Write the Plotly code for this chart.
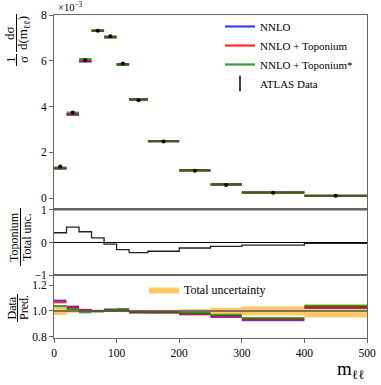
import plotly.graph_objects as go

# ---------------- data ----------------
bin_edges = [0, 20, 40, 60, 80, 100, 120, 150, 200, 250, 300, 400, 500]

# normalised cross-section, units of 1e-3
atlas_data = [1.38, 3.74, 6.02, 7.31, 7.07, 5.88, 4.27, 2.47, 1.19, 0.57, 0.23, 0.10]
atlas_err = [0.04, 0.05, 0.05, 0.05, 0.05, 0.06, 0.04, 0.03, 0.02, 0.015, 0.008, 0.005]
nnlo = [1.29, 3.64, 5.97, 7.31, 7.05, 5.85, 4.32, 2.49, 1.21, 0.60, 0.245, 0.098]
nnlo_top = [1.30, 3.67, 5.99, 7.31, 7.04, 5.84, 4.31, 2.49, 1.21, 0.59, 0.240, 0.097]
nnlo_top_star = [1.33, 3.73, 6.07, 7.33, 7.01, 5.82, 4.30, 2.49, 1.21, 0.59, 0.235, 0.096]

# toponium effect / total uncertainty
topo_over_unc = [0.30, 0.47, 0.33, 0.14, -0.05, -0.22, -0.31, -0.27, -0.17, -0.12, -0.08, -0.03]

# data / prediction ratios
ratio_nnlo = [1.079, 1.033, 1.008, 1.000, 1.004, 1.004, 0.990, 0.990, 0.975, 0.955, 0.930, 1.025]
ratio_top = [1.067, 1.026, 1.006, 1.000, 1.005, 1.006, 0.989, 0.990, 0.978, 0.960, 0.935, 1.030]
ratio_top_star = [1.038, 1.015, 0.990, 0.997, 1.012, 1.015, 0.994, 0.992, 0.985, 0.970, 0.945, 1.040]

# total uncertainty (half width of band around 1)
unc_half = [0.030, 0.013, 0.008, 0.007, 0.008, 0.010, 0.008, 0.010, 0.013, 0.025, 0.035, 0.050]

# ---------------- helpers ----------------
W, H = 381, 385
ML, MR, MT, MB = 54, 14, 15, 47
PW, PH = W - ML - MR, H - MT - MB


def px_x(px):
    return (px - ML) / PW


def px_y(py):
    return (H - MB - py) / PH


def segments(vals):
    xs, ys = [], []
    for i, v in enumerate(vals):
        xs += [bin_edges[i], bin_edges[i + 1], None]
        ys += [v, v, None]
    return xs, ys


BLUE = "rgba(0,0,255,0.75)"
RED = "rgba(255,0,0,0.8)"
GREEN = "rgba(0,128,0,0.75)"
SERIF = "Liberation Serif"

fig = go.Figure()

# ---------------- main panel ----------------
for name, vals, col in [("NNLO", nnlo, BLUE), ("NNLO + Toponium", nnlo_top, RED),
                        ("NNLO + Toponium*", nnlo_top_star, GREEN)]:
    xs, ys = segments(vals)
    fig.add_trace(go.Scatter(x=xs, y=ys, mode="lines", name=name,
                             line=dict(color=col, width=2.3),
                             xaxis="x", yaxis="y", legend="legend"))

centers = [(bin_edges[i] + bin_edges[i + 1]) / 2 for i in range(len(atlas_data))]
fig.add_trace(go.Scatter(x=centers, y=atlas_data, mode="markers", showlegend=False,
                         marker=dict(color="black", size=4),
                         error_y=dict(type="data", array=atlas_err, color="black",
                                      thickness=1, width=0),
                         xaxis="x", yaxis="y"))
fig.add_trace(go.Scatter(x=[None], y=[None], mode="markers", name="ATLAS Data",
                         marker=dict(symbol="line-ns", size=11, color="black",
                                     line=dict(color="black", width=1.5)),
                         xaxis="x", yaxis="y", legend="legend"))

# ---------------- middle panel ----------------
fig.add_trace(go.Scatter(x=bin_edges, y=topo_over_unc + [topo_over_unc[-1]], mode="lines",
                         line=dict(color="#222", width=1.3, shape="hv"),
                         showlegend=False, xaxis="x2", yaxis="y2"))

# ---------------- bottom panel ----------------
bx, by = [], []
for i, h in enumerate(unc_half):
    lo, hi = bin_edges[i], bin_edges[i + 1]
    bx += [lo, hi, hi, lo, lo, None]
    by += [1 - h, 1 - h, 1 + h, 1 + h, 1 - h, None]
fig.add_trace(go.Scatter(x=bx, y=by, mode="lines", fill="toself",
                         fillcolor="rgba(255,165,0,0.6)", line=dict(width=0),
                         name="Total uncertainty", xaxis="x3", yaxis="y3", legend="legend2"))

for vals, col in [(ratio_nnlo, BLUE), (ratio_top, RED), (ratio_top_star, GREEN)]:
    xs, ys = segments(vals)
    fig.add_trace(go.Scatter(x=xs, y=ys, mode="lines", showlegend=False,
                             line=dict(color=col, width=2.2), xaxis="x3", yaxis="y3"))

# ---------------- axes ----------------
AX = dict(showline=True, linecolor="#666", linewidth=1, mirror=True, showgrid=False,
          zeroline=False, ticks="outside", ticklen=4, tickcolor="#666", automargin=False,
          tickfont=dict(family=SERIF, size=11.5, color="black"))

d_main = [px_y(209), 1]
d_mid = [px_y(275), px_y(209)]
d_bot = [0, px_y(275)]

fig.update_layout(
    width=W, height=H, autosize=False,
    margin=dict(l=ML, r=MR, t=MT, b=MB, autoexpand=False),
    paper_bgcolor="white", plot_bgcolor="white",
    xaxis=dict(AX, domain=[0, 1], range=[0, 500], anchor="y", showticklabels=False, ticks=""),
    yaxis=dict(AX, domain=d_main, range=[-0.48, 8], tickvals=[0, 2, 4, 6, 8], anchor="x"),
    xaxis2=dict(AX, domain=[0, 1], range=[0, 500], anchor="y2", showticklabels=False, ticks=""),
    yaxis2=dict(AX, domain=d_mid, range=[-1, 1.03], tickvals=[-1, 0, 1], anchor="x2"),
    xaxis3=dict(AX, domain=[0, 1], range=[0, 500], anchor="y3",
                tickvals=[0, 100, 200, 300, 400, 500]),
    yaxis3=dict(AX, domain=d_bot, range=[0.792, 1.277], tickvals=[0.8, 1.0, 1.2],
                tickformat=".1f", anchor="x3"),
    legend=dict(x=px_x(220), y=px_y(12), xanchor="left", yanchor="top",
                bgcolor="rgba(0,0,0,0)", font=dict(family=SERIF, size=11, color="black"),
                tracegroupgap=0),
    legend2=dict(x=px_x(144), y=px_y(275), xanchor="left", yanchor="top",
                 bgcolor="rgba(0,0,0,0)", font=dict(family=SERIF, size=12, color="black")),
    showlegend=True,
)

# reference lines
shapes = [
    dict(type="line", xref="x2", yref="y2", x0=0, x1=500, y0=0, y1=0,
         line=dict(color="black", width=1)),
    dict(type="line", xref="x2", yref="y2", x0=0, x1=500, y0=1, y1=1,
         line=dict(color="#555", width=1)),
    dict(type="line", xref="x3", yref="y3", x0=0, x1=500, y0=1, y1=1,
         line=dict(color="#555", width=1.3)),
    # fraction bars of y-axis labels
    dict(type="line", xref="paper", yref="paper", x0=px_x(16.5), x1=px_x(16.5),
         y0=px_y(54), y1=px_y(66), line=dict(color="black", width=1)),
    dict(type="line", xref="paper", yref="paper", x0=px_x(16.5), x1=px_x(16.5),
         y0=px_y(14), y1=px_y(52), line=dict(color="black", width=1)),
    dict(type="line", xref="paper", yref="paper", x0=px_x(20.5), x1=px_x(20.5),
         y0=px_y(208), y1=px_y(266), line=dict(color="black", width=1)),
    dict(type="line", xref="paper", yref="paper", x0=px_x(17.5), x1=px_x(17.5),
         y0=px_y(294), y1=px_y(322), line=dict(color="black", width=1)),
]
fig.update_layout(shapes=shapes)


def lab(text, px, py, size=13, angle=-90, xa="center", ya="middle"):
    fig.add_annotation(text=text, x=px_x(px), y=px_y(py), xref="paper", yref="paper",
                       showarrow=False, textangle=angle, xanchor=xa, yanchor=ya,
                       font=dict(family=SERIF, size=size, color="black"))


lab("1", 10, 60, 13)
lab("σ", 23, 60, 13)
lab("dσ", 10, 33, 13)
lab("d(m<sub>ℓℓ</sub>)", 24, 33, 13)
lab("Toponium", 14, 237, 12)
lab("Total unc.", 27, 237, 12)
lab("Data", 11.5, 308, 12)
lab("Pred.", 24, 308, 12)
lab("×10<sup>−3</sup>", 56, 7, 10.5, angle=0, xa="left")
lab("m<sub>ℓℓ</sub>", 367, 370, 19, angle=0, xa="right")

fig.write_html("out.html", config={"displayModeBar": False},
               post_script="document.body.style.margin='0';document.body.style.padding='0';")
